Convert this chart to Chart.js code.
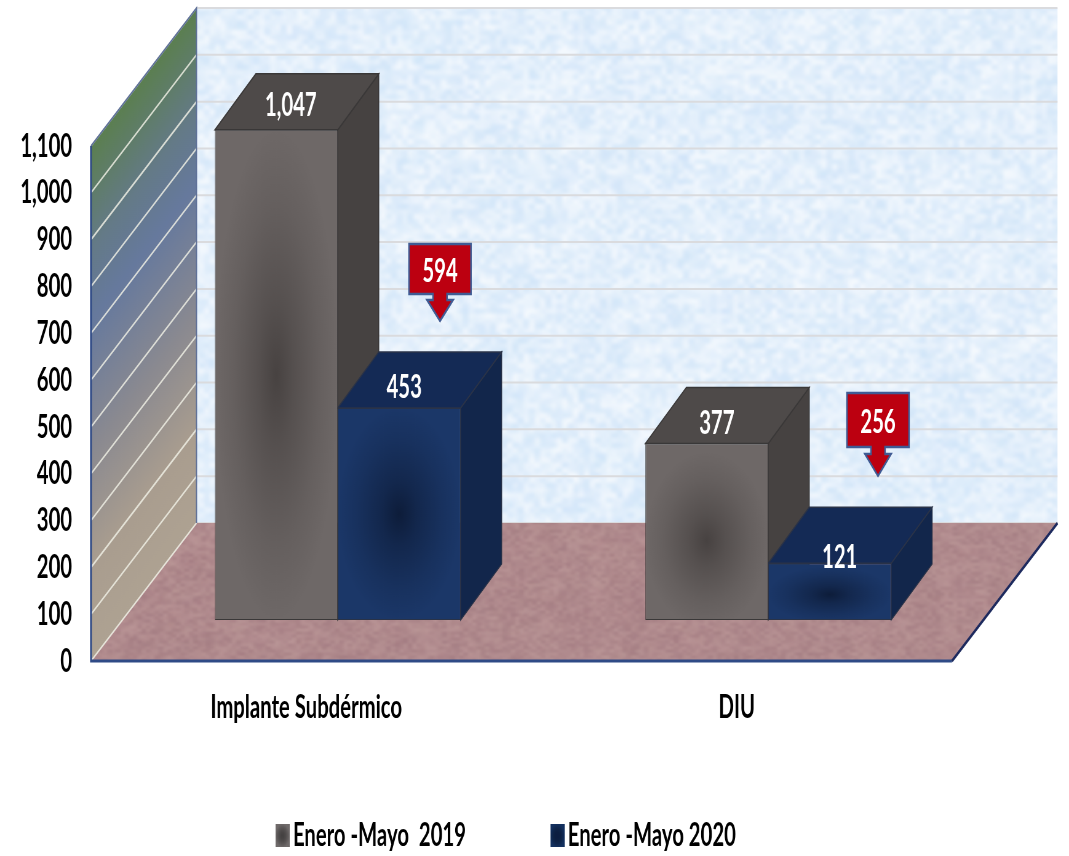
<!DOCTYPE html>
<html><head><meta charset="utf-8">
<style>
html,body{margin:0;padding:0;background:#fff;overflow:hidden;width:1069px;height:856px}
canvas{position:absolute;left:0;top:0;transform-origin:0 0}
</style>
<script src="https://cdn.jsdelivr.net/npm/chart.js@4/dist/chart.umd.min.js"></script>
</head><body><canvas id="c"></canvas>
<script>
const categories = ['Implante Subdérmico', 'DIU'];
const seriesNames = ['Enero -Mayo  2019', 'Enero -Mayo 2020'];
const values2019 = [1047, 377];
const values2020 = [453, 121];
const decreases = [594, 256];

// The reference is a horizontally squeezed picture: draw wide, then squeeze the canvas.
const W = 1738, H = 856, S = 1069 / W;
const X = v => v / S;
const FONT = 'Lato, "Open Sans", sans-serif';
const FONT_SIZE = 33;
const canvas = document.getElementById('c');
canvas.width = W; canvas.height = H;
canvas.style.transform = 'scaleX(' + S + ')';

const WALL = {dx: X(105.5), dy: -138};
const BAR = {dx: X(31.5), dy: -41, ddx: X(41), ddy: -56};
const GREY = {base: '#6e6867', dark: 'rgba(62,57,56,0.8)', top: '#4e4a49', side: '#464241', line: '#3a3838'};
const NAVY = {base: '#1b3768', dark: 'rgba(11,24,50,0.85)', top: '#142a55', side: '#12264b', line: '#2a3348'};
const LABEL_NUDGE = [[{x: 14.5, y: -24}, {x: 10, y: -20}], [{x: 5, y: -21}, {x: 10, y: -6}]];
const CALLOUTS = [
  {cx: 440, top: 244, bottom: 294, headY: 300, tip: 321},
  {cx: 878, top: 393, bottom: 447, headY: 454, tip: 476}
];
const LEGEND_PAD = X(91), LEGEND_CENTRE_Y = 839, X_AXIS_H = 80;

// soft mottling: a small grid of varied tints, enlarged with smoothing
function mottled(base, tone, amp, cellW, cellH, seed) {
  const t = document.createElement('canvas'); t.width = W; t.height = H;
  const g = t.getContext('2d');
  g.fillStyle = base; g.fillRect(0, 0, W, H);
  let s = seed;
  const next = () => (s = (s * 1664525 + 1013904223) % 4294967296) / 4294967296;
  [[cellW, cellH, amp], [cellW * 3, cellH * 3, amp * 0.55]].forEach(o => {
    const sw = Math.ceil(W / o[0]), sh = Math.ceil(H / o[1]);
    const n = document.createElement('canvas'); n.width = sw; n.height = sh;
    const nc = n.getContext('2d'), im = nc.createImageData(sw, sh);
    for (let i = 0; i < im.data.length; i += 4) {
      const up = next() > 0.5, c = up ? tone[0] : tone[1];
      im.data[i] = c[0]; im.data[i + 1] = c[1]; im.data[i + 2] = c[2];
      im.data[i + 3] = next() * o[2];
    }
    nc.putImageData(im, 0, 0);
    g.imageSmoothingEnabled = true;
    g.imageSmoothingQuality = 'high';
    g.drawImage(n, 0, 0, W, H);
  });
  return t;
}
const wallTex = mottled('#e3effb', [[255, 255, 255], [200, 224, 247]], 130, 9, 5, 7);
const floorTex = mottled('#b08a8d', [[194, 160, 158], [150, 110, 118]], 90, 7, 3, 11);

function poly(ctx, pts) {
  ctx.beginPath();
  pts.forEach((p, i) => i ? ctx.lineTo(p[0], p[1]) : ctx.moveTo(p[0], p[1]));
  ctx.closePath();
}
function swatch(colour, dark) {
  const c = document.createElement('canvas'); c.width = Math.round(X(14)); c.height = 23;
  const g = c.getContext('2d');
  g.fillStyle = colour; g.fillRect(0, 0, c.width, c.height);
  g.save(); g.translate(c.width / 2, c.height / 2); g.scale(c.width / 2, c.height / 2);
  const r = g.createRadialGradient(0, 0, 0, 0, 0, 1);
  r.addColorStop(0, dark); r.addColorStop(1, 'rgba(0,0,0,0)');
  g.fillStyle = r; g.fillRect(-1, -1, 2, 2); g.restore();
  return c;
}
const swatches = [swatch('#6f6a6a', 'rgba(50,48,48,.7)'), swatch('#13305f', 'rgba(10,25,60,.8)')];

const scene3d = {
  id: 'scene3d',
  afterLayout(chart) {
    const lg = chart.legend, h = lg.bottom - lg.top;
    lg.left += X(33); lg.right += X(33);
    lg.top = LEGEND_CENTRE_Y - LEGEND_PAD - FONT_SIZE * 0.6;
    lg.bottom = lg.top + h;
  },
  beforeDatasetsDraw(chart) {
    const ctx = chart.ctx, a = chart.chartArea, y = chart.scales.y;
    const L = a.left, R = a.right, T = a.top, B = a.bottom, dx = WALL.dx, dy = WALL.dy;
    ctx.save();
    // back wall
    poly(ctx, [[L + dx, T + dy], [R + dx, T + dy], [R + dx, B + dy], [L + dx, B + dy]]);
    ctx.save(); ctx.clip(); ctx.drawImage(wallTex, 0, 0); ctx.restore();
    ctx.strokeStyle = '#dadbde'; ctx.lineWidth = 2;
    y.ticks.forEach(t => {
      const p = y.getPixelForValue(t.value) + dy;
      ctx.beginPath(); ctx.moveTo(L + dx, p); ctx.lineTo(R + dx, p); ctx.stroke();
    });
    // floor
    poly(ctx, [[L, B], [R, B], [R + dx, B + dy], [L + dx, B + dy]]);
    ctx.save(); ctx.clip(); ctx.drawImage(floorTex, 0, 0); ctx.restore();
    // left wall, gradient runs across the sheared wall lines
    const nx = -dy, ny = dx, k = (B - T) * ny / (nx * nx + ny * ny);
    const lg = ctx.createLinearGradient(L, T, L + nx * k, T + ny * k);
    lg.addColorStop(0, '#5b7f50');
    lg.addColorStop(0.2, '#647a87');
    lg.addColorStop(0.34, '#66799d');
    lg.addColorStop(0.6, '#8b8a90');
    lg.addColorStop(0.82, '#a99d8f');
    lg.addColorStop(1, '#aea292');
    poly(ctx, [[L, T], [L + dx, T + dy], [L + dx, B + dy], [L, B]]);
    ctx.fillStyle = lg; ctx.fill();
    ctx.strokeStyle = 'rgba(238,238,228,.85)'; ctx.lineWidth = 2;
    y.ticks.forEach(t => {
      const p = y.getPixelForValue(t.value);
      ctx.beginPath(); ctx.moveTo(L, p); ctx.lineTo(L + dx, p + dy); ctx.stroke();
    });
    // axis edges
    ctx.strokeStyle = '#5f7199'; ctx.lineWidth = 2;
    ctx.beginPath(); ctx.moveTo(L, T); ctx.lineTo(L + dx, T + dy); ctx.lineTo(L + dx, B + dy); ctx.stroke();
    ctx.strokeStyle = '#2f4a86'; ctx.lineWidth = 3;
    ctx.beginPath(); ctx.moveTo(L, T); ctx.lineTo(L, B); ctx.lineTo(R, B); ctx.stroke();
    ctx.strokeStyle = '#1d2a5e'; ctx.lineWidth = 3;
    ctx.beginPath(); ctx.moveTo(R, B); ctx.lineTo(R + dx, B + dy); ctx.stroke();
    // bar tops and sides, far faces first
    [0, 1].forEach(ds => {
      const st = ds ? NAVY : GREY;
      chart.getDatasetMeta(ds).data.forEach(b => {
        const l = b.x - b.width / 2 + BAR.dx, r = b.x + b.width / 2 + BAR.dx;
        const t = b.y + BAR.dy, f = b.base + BAR.dy, ex = BAR.ddx, ey = BAR.ddy;
        ctx.strokeStyle = st.line; ctx.lineWidth = 1.5;
        poly(ctx, [[r, t], [r + ex, t + ey], [r + ex, f + ey], [r, f]]);
        ctx.fillStyle = st.side; ctx.fill(); ctx.stroke();
        poly(ctx, [[l, t], [l + ex, t + ey], [r + ex, t + ey], [r, t]]);
        ctx.fillStyle = st.top; ctx.fill(); ctx.stroke();
      });
    });
    ctx.restore();
  },
  beforeDatasetDraw(chart) {
    chart.ctx.save(); chart.ctx.translate(BAR.dx, BAR.dy);
  },
  afterDatasetDraw(chart) {
    chart.ctx.restore();
  },
  afterDatasetsDraw(chart) {
    const ctx = chart.ctx;
    ctx.save();
    [0, 1].forEach(ds => {
      const st = ds ? NAVY : GREY;
      chart.getDatasetMeta(ds).data.forEach((b, i) => {
        const l = b.x - b.width / 2 + BAR.dx, t = b.y + BAR.dy, w = b.width, h = b.base - b.y;
        // dark soft centre of the front face
        ctx.save();
        ctx.beginPath(); ctx.rect(l + 1, t + 1, w - 2, h - 2); ctx.clip();
        ctx.translate(l + w / 2, t + h / 2 + (h > 200 ? 0 : h * 0.05));
        ctx.scale(w * 0.5, Math.max(h * 0.5, 18));
        const r = ctx.createRadialGradient(0, 0, 0, 0, 0, 1);
        const fade = st.dark.replace(/[\d.]+\)$/, '');
        r.addColorStop(0, st.dark);
        r.addColorStop(0.3, fade + '0.5)');
        r.addColorStop(0.7, fade + '0.18)');
        r.addColorStop(1, fade + '0)');
        ctx.fillStyle = r; ctx.fillRect(-1, -1.2, 2, 2.4);
        ctx.restore();
        // value on the top face
        const n = LABEL_NUDGE[ds][i];
        ctx.fillStyle = '#fff';
        ctx.font = '700 ' + FONT_SIZE + 'px ' + FONT;
        ctx.textAlign = 'center'; ctx.textBaseline = 'middle';
        const v = (ds ? values2020 : values2019)[i];
        ctx.fillText(v.toLocaleString('en-US'), l + w / 2 + X(n.x), t + n.y);
      });
    });
    // decrease callouts
    CALLOUTS.forEach((c, i) => {
      const cx = X(c.cx), hw = X(31), sw = X(7), hh = X(13);
      ctx.fillStyle = '#bc0010'; ctx.strokeStyle = '#3f5b94'; ctx.lineWidth = 2.5;
      poly(ctx, [[cx - hw, c.top], [cx + hw, c.top], [cx + hw, c.bottom], [cx + sw, c.bottom],
                 [cx + sw, c.headY], [cx + hh, c.headY], [cx, c.tip], [cx - hh, c.headY],
                 [cx - sw, c.headY], [cx - sw, c.bottom], [cx - hw, c.bottom]]);
      ctx.fill(); ctx.stroke();
      ctx.fillStyle = '#fff';
      ctx.font = '700 ' + FONT_SIZE + 'px ' + FONT;
      ctx.textAlign = 'center'; ctx.textBaseline = 'middle';
      ctx.fillText(String(decreases[i]), cx, (c.top + c.bottom) / 2 + 2);
    });
    ctx.restore();
  }
};

new Chart(canvas, {
  type: 'bar',
  data: {
    labels: categories,
    datasets: [
      {label: seriesNames[0], data: values2019, backgroundColor: GREY.base, borderColor: GREY.line, borderWidth: 1, borderSkipped: false},
      {label: seriesNames[1], data: values2020, backgroundColor: NAVY.base, borderColor: NAVY.line, borderWidth: 1, borderSkipped: false}
    ]
  },
  options: {
    responsive: false,
    animation: false,
    devicePixelRatio: 1,
    categoryPercentage: 0.571,
    barPercentage: 1,
    layout: {padding: {left: 0, right: X(117), top: 146, bottom: 196 - X_AXIS_H - LEGEND_PAD - 44}},
    scales: {
      x: {
        grid: {display: false}, border: {display: false},
        ticks: {color: '#000', font: {family: FONT, size: FONT_SIZE, weight: '700'}, padding: 19, maxRotation: 0},
        afterFit(s) { s.height = X_AXIS_H; }
      },
      y: {
        min: 0, max: 1100,
        grid: {display: false}, border: {display: false},
        ticks: {
          stepSize: 100, autoSkip: false, color: '#000', padding: X(14),
          font: {family: FONT, size: FONT_SIZE, weight: '700'},
          callback: v => v.toLocaleString('en-US')
        },
        afterFit(s) { s.width = X(91); }
      }
    },
    plugins: {
      tooltip: {enabled: false},
      legend: {
        position: 'bottom',
        labels: {
          usePointStyle: true, boxWidth: 1, padding: LEGEND_PAD, color: '#000',
          font: {family: FONT, size: FONT_SIZE, weight: '700'},
          generateLabels: chart => chart.data.datasets.map((d, i) => ({
            text: d.label, datasetIndex: i, fontColor: '#000',
            pointStyle: swatches[i],
            lineWidth: 0, strokeStyle: 'transparent', fillStyle: 'transparent'
          }))
        }
      }
    }
  },
  plugins: [scene3d]
});
</script></body></html>
